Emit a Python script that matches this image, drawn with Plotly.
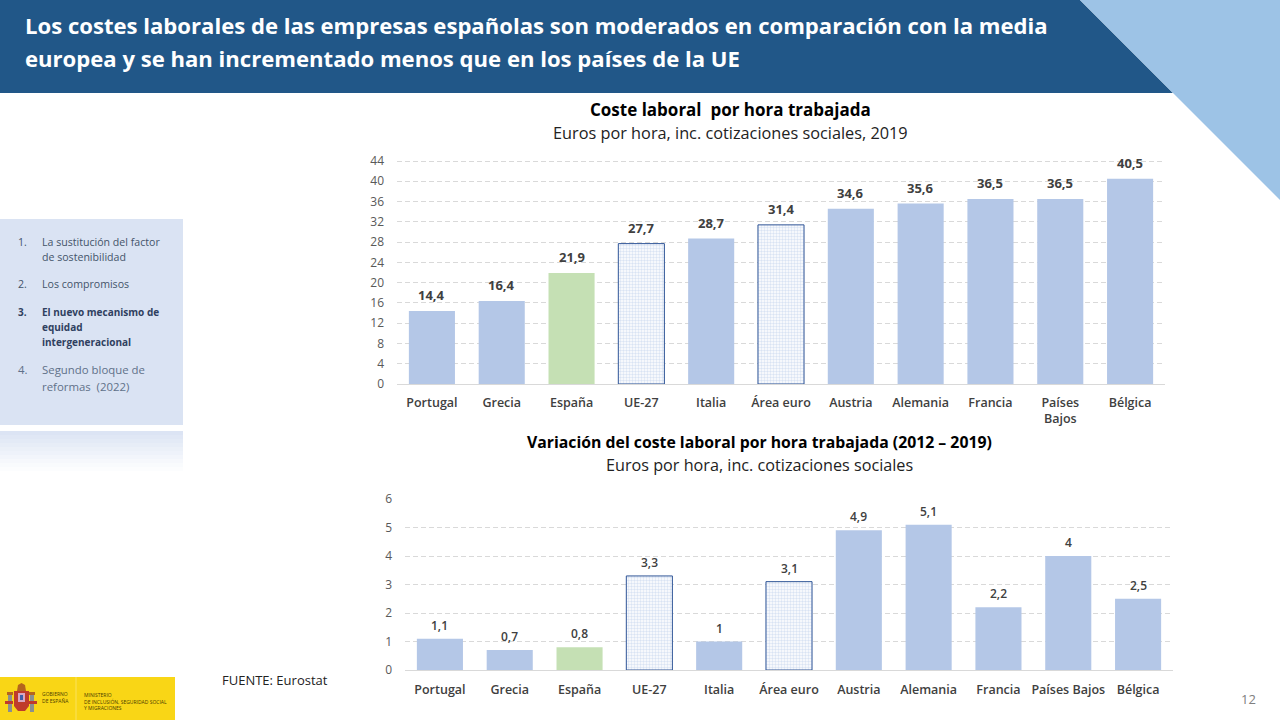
import plotly.graph_objects as go

W, H = 1280, 720
categories_top = ["Portugal", "Grecia", "España", "UE-27", "Italia", "Área euro", "Austria", "Alemania", "Francia", "Países<br>Bajos", "Bélgica"]
values_top = [14.4, 16.4, 21.9, 27.7, 28.7, 31.4, 34.6, 35.6, 36.5, 36.5, 40.5]
labels_top = ["14,4", "16,4", "21,9", "27,7", "28,7", "31,4", "34,6", "35,6", "36,5", "36,5", "40,5"]
categories_bottom = ["Portugal", "Grecia", "España", "UE-27", "Italia", "Área euro", "Austria", "Alemania", "Francia", "Países Bajos", "Bélgica"]
values_bottom = [1.1, 0.7, 0.8, 3.3, 1, 3.1, 4.9, 5.1, 2.2, 4, 2.5]
labels_bottom = ["1,1", "0,7", "0,8", "3,3", "1", "3,1", "4,9", "5,1", "2,2", "4", "2,5"]
ticks_top = [0, 4, 8, 12, 16, 20, 24, 28, 32, 36, 40, 44]
ticks_bottom = [0, 1, 2, 3, 4, 5, 6]

BLUE, GREEN, OUT = "#b4c7e7", "#c5e0b4", "#2f5597"
FONT = "Open Sans"
DOTTED = {"UE-27", "Área euro"}


def px(x):
    return x / W


def py(y):
    return 1 - y / H


fig = go.Figure()


def add_bars(cats, vals, xa, ya):
    solid = [(c, v) for c, v in zip(cats, vals) if c not in DOTTED]
    dotted = [(c, v) for c, v in zip(cats, vals) if c in DOTTED]
    fig.add_bar(x=[c for c, _ in solid], y=[v for _, v in solid], xaxis=xa, yaxis=ya, showlegend=False,
                marker=dict(color=[GREEN if c == "España" else BLUE for c, _ in solid], line=dict(width=0)))
    fig.add_bar(x=[c for c, _ in dotted], y=[v for _, v in dotted], xaxis=xa, yaxis=ya, showlegend=False,
                marker=dict(color="#ffffff", line=dict(color=OUT, width=1),
                            pattern=dict(shape=".", fgcolor=BLUE, bgcolor="#ffffff", size=3, solidity=0.5)))


add_bars(categories_top, values_top, "x", "y")
add_bars(categories_bottom, values_bottom, "x2", "y2")

common_y = dict(showline=False, showgrid=True, gridcolor="#d9d9d9", griddash="5px,3px", gridwidth=1,
                zeroline=True, zerolinecolor="#d9d9d9", zerolinewidth=1, ticklabelstandoff=12,
                tickfont=dict(family=FONT, size=12, color="#595959"), tickmode="array", ticks="", ticklen=0)
common_x = dict(showline=False, showgrid=False, ticks="", tickangle=0, automargin=False,
                tickfont=dict(family=FONT, size=12.5, color="#404040", weight=600))

shapes = []


def rect(x0, y0, x1, y1, color, opacity=1):
    shapes.append(dict(type="rect", xref="paper", yref="paper", x0=px(x0), x1=px(x1), y0=py(y0), y1=py(y1),
                       fillcolor=color, opacity=opacity, line=dict(width=0), layer="below"))


def poly(points, color):
    path = "M " + " L ".join(f"{px(a):.5f},{py(b):.5f}" for a, b in points) + " Z"
    shapes.append(dict(type="path", xref="paper", yref="paper", path=path, fillcolor=color,
                       line=dict(width=0), layer="below"))


# banner
poly([(0, 0), (1080, 0), (1173, 93), (0, 93)], "#215788")
poly([(1080, 0), (1280, 0), (1280, 200)], "#9dc3e6")
# sidebar
rect(0, 219, 183, 425, "#dae3f3")
fade = [0.95, 0.85, 0.75, 0.65, 0.55, 0.45, 0.35, 0.25, 0.15, 0.07]
for i, op in enumerate(fade):
    rect(0, 431 + i * 4, 183, 435 + i * 4, "#dae3f3", op)
# logo
rect(0, 677, 175, 720, "#f9d616")
rect(75.5, 677, 76.5, 720, "#fbe25c")
rect(8, 695, 12, 712, "#8a8f8f")
rect(30, 695, 34, 712, "#8a8f8f")
rect(7, 692, 13, 695, "#b5651d")
rect(29, 692, 35, 695, "#b5651d")
rect(5, 701, 13, 704, "#c0392b")
rect(29, 701, 37, 704, "#c0392b")
poly([(14, 691), (29, 691), (29, 706), (25, 711), (18, 711), (14, 706)], "#bf3b2b")
poly([(17, 691), (18, 685), (21.5, 683), (25, 685), (26, 691)], "#b5651d")
rect(18, 693, 25, 702, "#d9a5c0")
rect(20, 695, 23, 700, "#3f5fa8")

ann = []


def text(x, y, s, size, color="#000000", weight=400, anchor="center", family=FONT, valign="middle"):
    ann.append(dict(xref="paper", yref="paper", x=px(x), y=py(y), text=s, showarrow=False, xanchor=anchor,
                    yanchor=valign, align="left" if anchor == "left" else anchor,
                    font=dict(family=family, size=size, color=color, weight=weight)))


text(23, 25, "Los costes laborales de las empresas españolas son moderados en comparación con la media", 22.1, "#ffffff", 700, "left")
text(23, 57.5, "europea y se han incrementado menos que en los países de la UE", 22.1, "#ffffff", 700, "left")
text(730, 109, "Coste laboral  por hora trabajada", 17, "#000000", 700)
text(730, 133, "Euros por hora, inc. cotizaciones sociales, 2019", 16.3, "#222222")
text(759, 442, "Variación del coste laboral por hora trabajada (2012 – 2019)", 15.8, "#000000", 700)
text(759, 465, "Euros por hora, inc. cotizaciones sociales", 16.2, "#222222")
text(220, 680, "FUENTE: Eurostat", 13, "#222222", 400, "left")
text(1239, 699, "12", 13, "#808080", 400, "left")

NAVY, DARK, GREY = "#44546a", "#2f4060", "#5f7189"
side = [(16, 242, "1.", NAVY, 400, 10.6), (40, 242, "La sustitución del factor", NAVY, 400, 10.6),
        (40, 257, "de sostenibilidad", NAVY, 400, 10.6),
        (16, 284, "2.", NAVY, 400, 10.6), (40, 284, "Los compromisos", NAVY, 400, 10.6),
        (16, 312, "3.", DARK, 700, 10), (40, 312, "El nuevo mecanismo de", DARK, 700, 10),
        (40, 327, "equidad", DARK, 700, 10), (40, 342, "intergeneracional", DARK, 700, 10),
        (16, 370, "4.", GREY, 400, 11.4), (40, 370, "Segundo bloque de", GREY, 400, 11.4),
        (40, 386, "reformas  (2022)", GREY, 400, 11.4)]
for x, y, s, c, w, sz in side:
    text(x, y, s, sz, c, w, "left")

text(40, 697, "GOBIERNO<br>DE ESPAÑA", 5, "#4a3b00", 400, "left")
text(82, 701, "MINISTERIO<br>DE INCLUSIÓN, SEGURIDAD SOCIAL<br>Y MIGRACIONES", 5, "#4a3b00", 400, "left")

# data labels, placed through the axes
for c, v, t in zip(categories_top, values_top, labels_top):
    ann.append(dict(xref="x", yref="y", x=c, y=v, text=t, showarrow=False, yanchor="bottom", yshift=5,
                    font=dict(family=FONT, size=13, color="#404040", weight="bold")))
for c, v, t in zip(categories_bottom, values_bottom, labels_bottom):
    ann.append(dict(xref="x2", yref="y2", x=c, y=v, text=t, showarrow=False, yanchor="bottom", yshift=3,
                    font=dict(family=FONT, size=12, color="#404040", weight=600)))

fig.update_layout(
    width=W, height=H, autosize=False, margin=dict(l=0, r=0, t=0, b=0, autoexpand=False),
    paper_bgcolor="#ffffff", plot_bgcolor="#ffffff", bargap=0.34, barmode="overlay",
    shapes=shapes, annotations=ann,
    font=dict(family=FONT),
    xaxis=dict(domain=[px(397), px(1165)], anchor="y", categoryorder="array", categoryarray=categories_top,
               ticklabelstandoff=9, **common_x),
    yaxis=dict(domain=[py(384), py(160)], range=[0, 44.2], tickvals=ticks_top, anchor="x", **common_y),
    xaxis2=dict(domain=[px(405), px(1173)], anchor="y2", categoryorder="array", categoryarray=categories_bottom,
                ticklabelstandoff=10, **common_x),
    yaxis2=dict(domain=[py(670), py(498)], range=[0, 6.035], tickvals=ticks_bottom, anchor="x2", **common_y),
)
fig.write_html("out.html", config={"displayModeBar": False}, default_width="1280px", default_height="720px",
               post_script="document.body.style.margin='0';document.documentElement.style.overflow='hidden';window.scrollTo(0,0);")
